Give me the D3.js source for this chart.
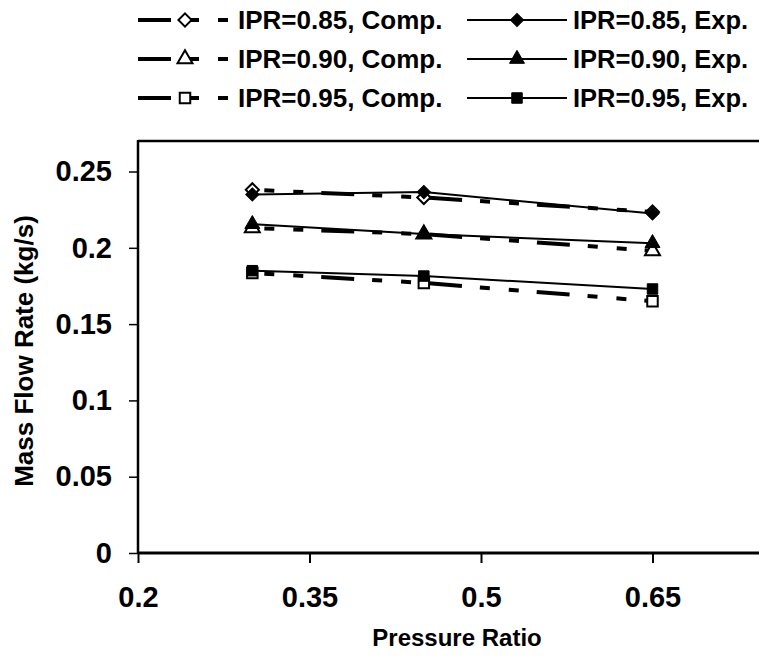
<!DOCTYPE html>
<html>
<head>
<meta charset="utf-8">
<script src="https://cdn.jsdelivr.net/npm/d3@7"></script>
<style>
  html, body { margin: 0; padding: 0; background: #fff; }
  svg { display: block; }
  text { font-family: "Liberation Sans", Arial, sans-serif; font-weight: bold; fill: #000; }
</style>
</head>
<body>
<svg id="chart" width="759" height="657"></svg>
<script>
// ---- data ----
const pressureRatio = [0.3, 0.45, 0.65];
const comp085 = [0.238, 0.233, 0.2235];
const exp085  = [0.235, 0.2365, 0.2225];
const comp090 = [0.213, 0.209, 0.198];
const exp090  = [0.2155, 0.209, 0.203];
const comp095 = [0.1835, 0.177, 0.165];
const exp095  = [0.185, 0.1815, 0.173];
const xTickValues = [0.2, 0.35, 0.5, 0.65];
const yTickValues = [0, 0.05, 0.1, 0.15, 0.2, 0.25];
const seriesNames = ["IPR=0.85, Comp.", "IPR=0.85, Exp.", "IPR=0.90, Comp.", "IPR=0.90, Exp.", "IPR=0.95, Comp.", "IPR=0.95, Exp."];
const xTitle = "Pressure Ratio";
const yTitle = "Mass Flow Rate (kg/s)";

const series = [
  { name: seriesNames[0], values: comp085, kind: "comp", shape: "diamond" },
  { name: seriesNames[1], values: exp085,  kind: "exp",  shape: "diamond" },
  { name: seriesNames[2], values: comp090, kind: "comp", shape: "triangle" },
  { name: seriesNames[3], values: exp090,  kind: "exp",  shape: "triangle" },
  { name: seriesNames[4], values: comp095, kind: "comp", shape: "square" },
  { name: seriesNames[5], values: exp095,  kind: "exp",  shape: "square" }
];

(function () {
const svg = d3.select("#chart");
const pLeft = 138, pRight = 824, pTop = 141, pBottom = 553;

const x = d3.scaleLinear().domain([0.2, 0.8]).range([pLeft, pRight]);
const y = d3.scaleLinear().domain([0, 0.27]).range([pBottom, pTop]);

const dash = "33,18,10,19,10,18";
const fontStack = "'Liberation Sans', Arial, sans-serif";

// frame top line
svg.append("line").attr("x1", pLeft).attr("x2", pRight).attr("y1", pTop).attr("y2", pTop)
  .attr("stroke", "#000").attr("stroke-width", 2.5);

// axes
const yAxis = d3.axisLeft(y).tickValues(yTickValues).tickSize(9).tickPadding(17)
  .tickFormat(d => String(+d.toFixed(2)));
const gy = svg.append("g").attr("transform", `translate(${pLeft},0)`).call(yAxis);
gy.select(".domain").remove();
gy.selectAll(".tick line").attr("stroke", "#000").attr("stroke-width", 1.5);
gy.selectAll(".tick text").style("font-size", "29px").style("font-family", fontStack).style("font-weight", "bold").attr("fill", "#000");

const xAxis = d3.axisBottom(x).tickValues(xTickValues).tickSize(10).tickPadding(23)
  .tickFormat(d => String(+d.toFixed(2)));
const gx = svg.append("g").attr("transform", `translate(0,${pBottom})`).call(xAxis);
gx.select(".domain").remove();
gx.selectAll(".tick line").attr("stroke", "#000").attr("stroke-width", 2);
gx.selectAll(".tick text").style("font-size", "29px").style("font-family", fontStack).style("font-weight", "bold").attr("fill", "#000");

// axis lines
svg.append("line").attr("x1", pLeft).attr("x2", pLeft).attr("y1", pTop - 1).attr("y2", pBottom)
  .attr("stroke", "#000").attr("stroke-width", 2.5);
svg.append("line").attr("x1", pLeft).attr("x2", pRight).attr("y1", pBottom).attr("y2", pBottom)
  .attr("stroke", "#000").attr("stroke-width", 3);

// titles
svg.append("text").attr("x", 457).attr("y", 646).attr("text-anchor", "middle")
  .style("font-size", "24px").text(xTitle);
svg.append("text").attr("transform", `translate(33,${(pTop + pBottom) / 2 + 4}) rotate(-90)`)
  .attr("text-anchor", "middle").style("font-size", "26px").text(yTitle);

// markers
const symType = { diamond: d3.symbolSquare2, triangle: d3.symbolTriangle2, square: d3.symbolSquare2 };
const symSize = { diamond: 110, triangle: 160, square: 140 };
function drawMarker(g, cx, cy, s) {
  const filled = s.kind === "exp";
  const sym = d3.symbol().type(symType[s.shape]).size(symSize[s.shape]);
  let t = `translate(${cx},${cy})`;
  if (s.shape === "diamond") t += " rotate(45)";
  g.append("path").attr("d", sym()).attr("transform", t)
    .attr("fill", filled ? "#000" : "#fff").attr("stroke", "#000").attr("stroke-width", filled ? 1 : 2);
}

const line = d3.line().x(d => x(d[0])).y(d => y(d[1]));
const plot = svg.append("g");
// comp first, then exp on top
const ordered = series.filter(s => s.kind === "comp").concat(series.filter(s => s.kind === "exp"));
ordered.forEach(s => {
  const pts = pressureRatio.map((p, i) => [p, s.values[i]]);
  const path = plot.append("path").datum(pts).attr("d", line).attr("fill", "none").attr("stroke", "#000");
  if (s.kind === "comp") path.attr("stroke-width", 4).attr("stroke-dasharray", dash).attr("stroke-dashoffset", 39);
  else path.attr("stroke-width", 2);
});
ordered.forEach(s => {
  pressureRatio.forEach((p, i) => drawMarker(plot, x(p), y(s.values[i]), s));
});

// legend
const rowY = [20, 59, 98];
const legend = svg.append("g");
series.forEach((s, i) => {
  const row = Math.floor(i / 2);
  const cy = rowY[row];
  if (s.kind === "comp") {
    legend.append("line").attr("x1", 138).attr("x2", 229).attr("y1", cy).attr("y2", cy)
      .attr("stroke", "#000").attr("stroke-width", 4).attr("stroke-dasharray", dash);
    drawMarker(legend, 185, cy, s);
    legend.append("text").attr("x", 238).attr("y", cy).attr("dy", "0.36em")
      .style("font-size", "26px").text(s.name);
  } else {
    legend.append("line").attr("x1", 467).attr("x2", 567).attr("y1", cy).attr("y2", cy)
      .attr("stroke", "#000").attr("stroke-width", 2);
    drawMarker(legend, 517, cy, s);
    legend.append("text").attr("x", 573).attr("y", cy).attr("dy", "0.36em")
      .style("font-size", "25.5px").text(s.name);
  }
});
})();
</script>
</body>
</html>
